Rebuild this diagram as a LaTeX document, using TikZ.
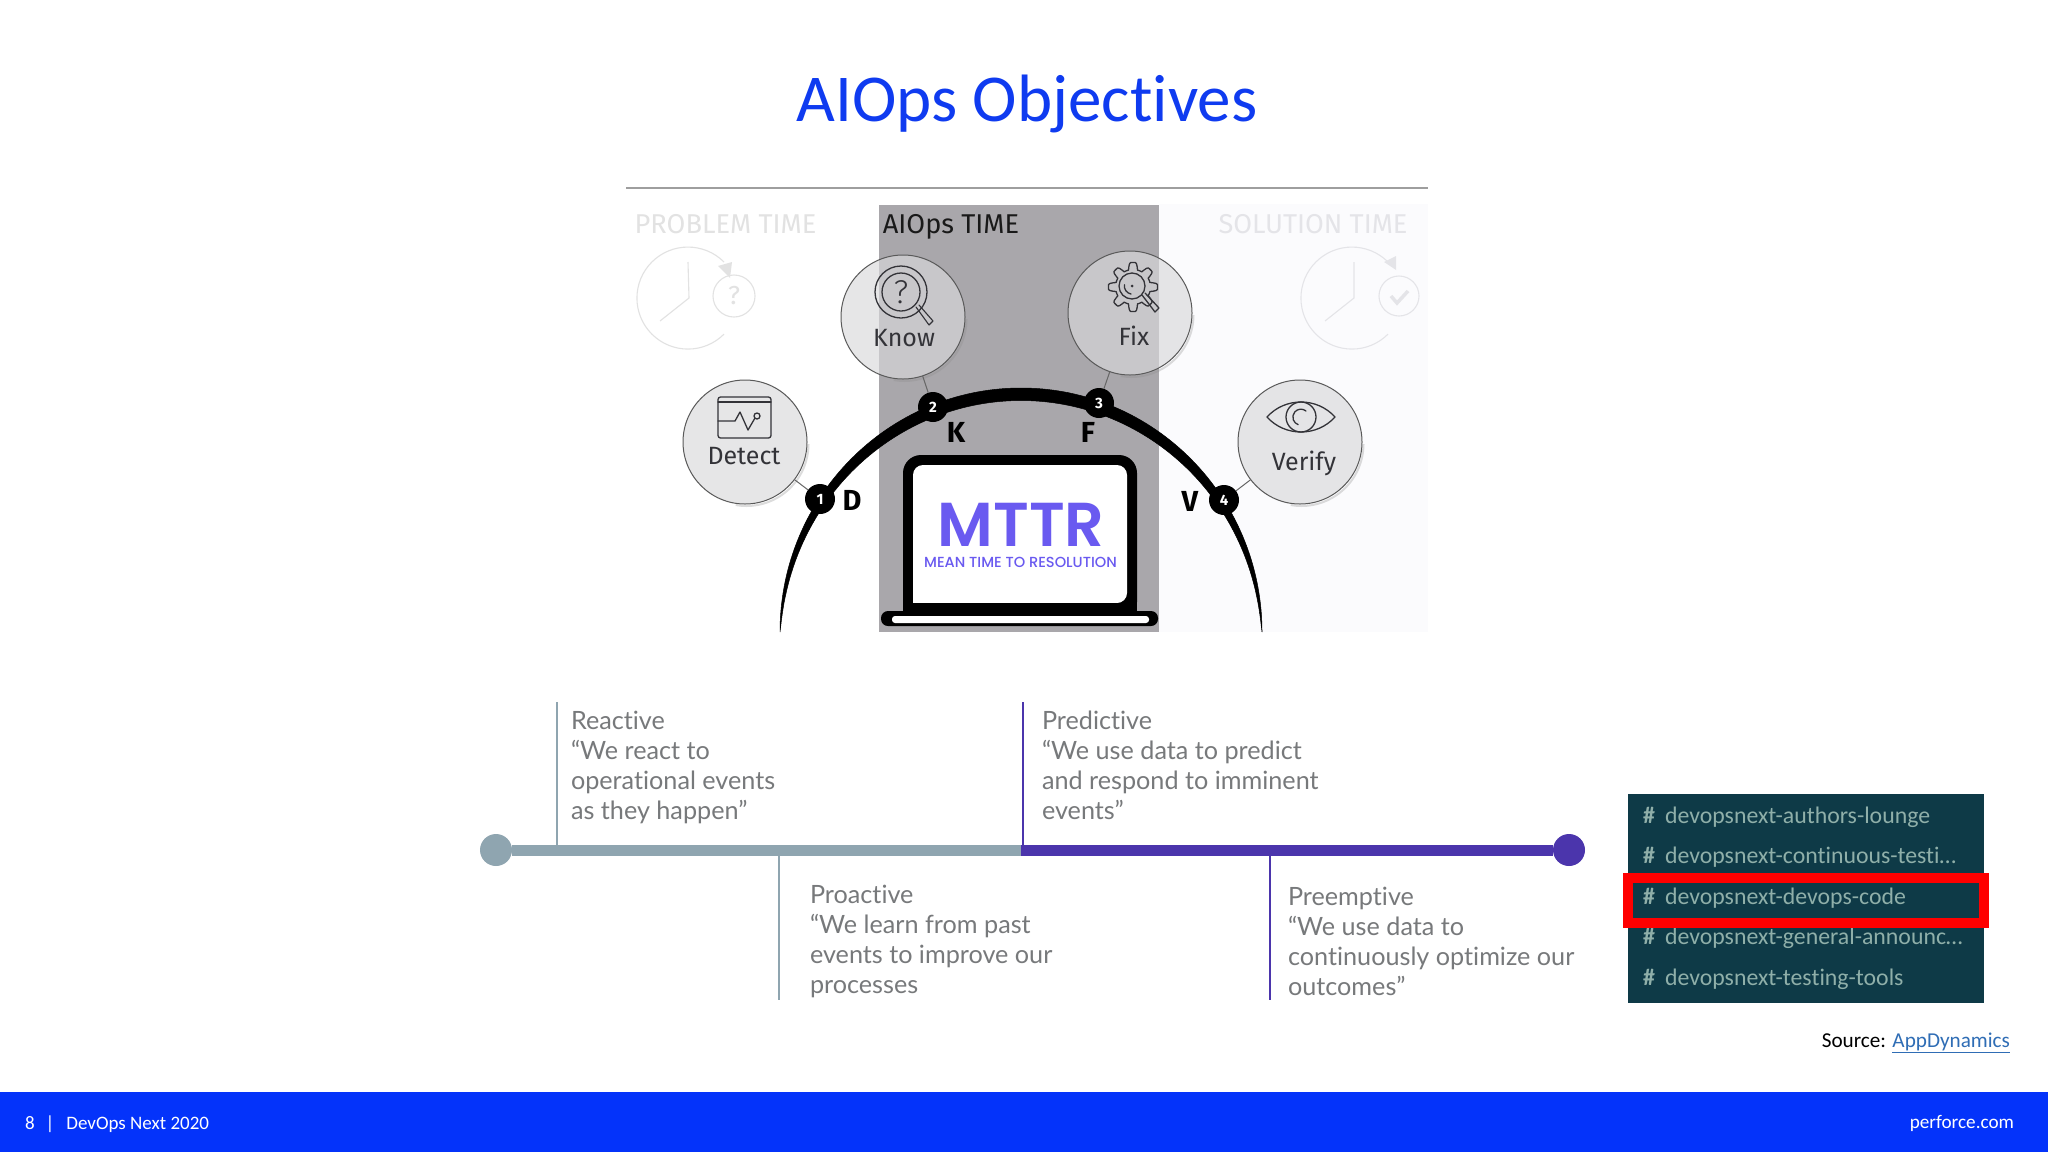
\documentclass[tikz,border=0pt]{standalone}
\usepackage{fontspec}
\setmainfont{Carlito}[Ligatures=NoCommon]
\newfontfamily\lblfont{Fira Sans}
\newfontfamily\tlfont{Lato}[Ligatures=NoCommon]
\newfontfamily\mtfont{Poppins Medium}
\newfontfamily\mtbfont{Poppins SemiBold}
\usetikzlibrary{calc,arrows.meta}
\definecolor{titleblue}{HTML}{0F3BF0}
\definecolor{footblue}{HTML}{0433FA}
\definecolor{panelgrey}{HTML}{A9A7AB}
\definecolor{panelpale}{HTML}{FBFBFD}
\definecolor{bubble}{HTML}{D9D9DB}
\definecolor{icondark}{HTML}{333338}
\definecolor{fadeL}{HTML}{E2E2E2}
\definecolor{fadeR}{HTML}{E4E4E8}
\definecolor{mttr}{HTML}{6A5AF0}
\definecolor{tlgrey}{HTML}{8FA5B0}
\definecolor{tlpurple}{HTML}{4B35AC}
\definecolor{tltext}{HTML}{77797B}
\definecolor{slackbg}{HTML}{0E3A47}
\definecolor{slacktx}{HTML}{8FAFA9}
\definecolor{linkblue}{HTML}{2F6DB5}
\newcommand{\fsz}[1]{\fontsize{#1}{#1}\selectfont}
\tikzset{
  x=1pt,y=-1pt,
  txt/.style={inner sep=0,outer sep=0},
  bubblenode/.style={circle,minimum size=124,inner sep=0,outer sep=0,draw=black!65,line width=1pt,fill=bubble,fill opacity=.65},
  shadowarc/.style={draw=black!45,line width=2pt,opacity=.3},
  badge/.style={circle,fill=black,text=white,minimum size=30,inner sep=0,outer sep=0,font=\lblfont\bfseries\fsz{15}},
  conn/.style={draw=black!60,line width=1pt},
  bubbletext/.style={txt,text=icondark,font=\lblfont\fsz{25}},
  arclabel/.style={txt,text=black,font=\lblfont\bfseries\fsz{29}},
  icon/.style={draw=icondark,line width=1.3pt,line join=round,line cap=round},
  fadeiconL/.style={draw=fadeL,line width=1.1pt},
  fadeiconR/.style={draw=fadeR,line width=1.1pt},
  headtext/.style={txt,anchor=base,font=\lblfont\fsz{27.2}},
  tlblock/.style={txt,anchor=north west,align=left,text=tltext,font=\tlfont\fontsize{25.2}{30}\selectfont},
  tlstem/.style={line width=2pt},
  slackline/.style={txt,anchor=base west,text=slacktx,font=\fsz{23.8}},
  foottext/.style={txt,text=white,font=\fsz{19}},
}
\begin{document}
\begin{tikzpicture}
\useasboundingbox (0,0) rectangle (2048,1152);
\fill[white] (0,0) rectangle (2048,1152);
% title
\node[txt,anchor=base,text=titleblue,font=\fsz{67}] (title) at (1027,121) {AIOps Objectives};
\coordinate (ruleL) at (626,188); \coordinate (ruleR) at (1428,188);
\draw[black!38,line width=1.2pt] (ruleL) -- (ruleR);
% panels
\fill[panelpale] (1159,204) rectangle (1428,632);
\fill[panelgrey] (879,205) rectangle (1159,632);
\node[headtext,text=fadeL] (problem) at (725.5,233) {PROBLEM TIME};
\node[headtext,text=black!90] (aiops) at (951,233) {AIOps TIME};
\node[headtext,text=fadeR] (solution) at (1313,233) {SOLUTION TIME};
% faded clocks
\coordinate (clkL) at (688,296); \coordinate (clkR) at (1352,296);
\draw[fadeiconL] (734,296) circle[radius=21];
\draw[fadeiconL] (724,262) arc[start angle=-45,end angle=-315,radius=51];
\fill[fadeL] (730,278) -- (718,266) -- (732,262) -- cycle;
\draw[fadeiconL] (688,262) -- (689,298) -- (660,321);
\node[txt,text=fadeL,font=\lblfont\fsz{26}] (qL) at (734,296) {?};
\draw[fadeiconR] (1399,296) circle[radius=20];
\draw[fadeiconR] (1388,262) arc[start angle=-45,end angle=-315,radius=51];
\fill[fadeR] (1396,270) -- (1384,262) -- (1396,256) -- cycle;
\draw[fadeiconR] (1354,262) -- (1354,298) -- (1325,321);
\draw[fadeR,line width=3.5pt] (1391,296) -- (1397,303) -- (1408,291);
% arc
\coordinate (arcC) at (1021,632);
\path[fill=black,draw=black,line width=.5pt] (780,632) arc[start angle=180,end angle=360,x radius=241,y radius=244]
  -- plot[domain=359:181,samples=120] ({1021+(241-12.5*pow(abs(sin(\x)),.8))*cos(\x)},{632+(244-12.5*pow(abs(sin(\x)),.8))*sin(\x)}) -- cycle;
% bubbles
\node[bubblenode] (know) at (903,317) {};
\node[bubblenode] (detect) at (745,442) {};
\node[bubblenode] (fix) at (1130,313) {};
\node[bubblenode] (verify) at (1300,442) {};
\foreach \n in {know,detect,fix,verify}
  \draw[shadowarc] ([shift={(63.5,2)}]\n.center) arc[start angle=0,end angle=100,radius=62];
% badges
\node[badge] (b1) at (820,499) {1};
\node[badge] (b2) at (933,407) {2};
\node[badge] (b3) at (1099,403) {3};
\node[badge] (b4) at (1224,500) {4};
\draw[conn] (detect) -- (b1);
\draw[conn] (know) -- (b2);
\draw[conn] (fix) -- (b3);
\draw[conn] (verify) -- (b4);
\node[arclabel] (lD) at (852,500) {D};
\node[arclabel] (lK) at (956,432) {K};
\node[arclabel] (lF) at (1088,432) {F};
\node[arclabel] (lV) at (1190,501) {V};
% bubble text
\node[bubbletext] (tKnow) at (904,338) {Know};
\node[bubbletext] (tDetect) at (744,456) {Detect};
\node[bubbletext] (tFix) at (1134,336) {Fix};
\node[bubbletext] (tVerify) at (1304,463) {Verify};
% know icon
\draw[icon] (901,292) circle[radius=26] (901,292) circle[radius=19];
\draw[icon,line width=1.1pt] (916,307) -- (929,325) -- (933,321) -- (919,305);
\node[txt,text=icondark,font=\fontspec{Fira Sans Light}\fsz{33}] (qK) at (901,292) {?};
% detect icon
\draw[icon,rounded corners=2.5] (718,397) rectangle (771,438);
\draw[icon] (718,402) -- (771,402);
\draw[icon] (718,421) -- (735,421) -- (740,412) -- (748,430) -- (755,418);
\draw[icon] (757,416) circle[radius=3];
% fix icon
\draw[icon] plot[domain=0:360,samples=121] ({1133+(21+3.5*max(-1,min(1,2*cos(8*\x))))*cos(\x)},{287+(21+3.5*max(-1,min(1,2*cos(8*\x))))*sin(\x)}) -- cycle;
\draw[icon] (1132,286) circle[radius=13];
\draw[icon] (1131,294) arc[start angle=100,end angle=190,radius=8];
\fill[icondark] (1132,286) circle[radius=1.5];
\draw[icon] (1142,295) -- (1155,312) -- (1159,308) -- (1145,293);
% verify icon
\draw[icon] (1267,417) .. controls (1285,397) and (1317,397) .. (1335,417) .. controls (1317,437) and (1285,437) .. (1267,417) -- cycle;
\draw[icon] (1301,417) circle[radius=15];
\draw[icon] (1306,411) arc[start angle=-50,end angle=-250,radius=8];
% laptop
\fill[black,rounded corners=18] (903,455) -- (1137,455) -- (1137,620) -- (903,620) -- cycle;
\fill[white,rounded corners=10] (913,603) -- (913,465) -- (1127,465) -- (1127,603) [sharp corners] -- cycle;
\fill[black,rounded corners=7] (881,611) rectangle (1158,626);
\fill[white,rounded corners=3] (892,616) rectangle (1149,623);
\fill[black] (903,603) rectangle (1137,613);
\node[txt,anchor=base,text=mttr,font=\mtbfont\fsz{62}] (mttrT) at (1021,546) {MTTR};
\node[txt,anchor=base,text=mttr,font=\mtfont\fsz{14.6}] (mttrS) at (1020.5,567) {MEAN TIME TO RESOLUTION};
% timeline
\coordinate (split) at (1021,850);
\node[circle,fill=tlgrey,minimum size=32,inner sep=0,outer sep=0] (dotL) at (496,850) {};
\node[circle,fill=tlpurple,minimum size=32,inner sep=0,outer sep=0] (dotR) at (1569,850) {};
\draw[tlgrey,line width=11pt] (dotL) -- (split);
\draw[tlpurple,line width=11pt] (split) -- (dotR);
\coordinate (s1a) at (556.5,702); \coordinate (s1b) at (556.5,845);
\coordinate (s2a) at (1022.5,702); \coordinate (s2b) at (1022.5,845);
\coordinate (s3a) at (778.5,856); \coordinate (s3b) at (778.5,1000);
\coordinate (s4a) at (1270,856); \coordinate (s4b) at (1270,1000);
\draw[tlstem,tlgrey] (s1a) -- (s1b);
\draw[tlstem,tlpurple] (s2a) -- (s2b);
\draw[tlstem,tlgrey] (s3a) -- (s3b);
\draw[tlstem,tlpurple] (s4a) -- (s4b);
\node[tlblock] (reactive) at (571,711) {Reactive\\“We react to\\operational events\\as they happen”};
\node[tlblock] (predictive) at (1042,711) {Predictive\\“We use data to predict\\and respond to imminent\\events”};
\node[tlblock] (proactive) at (810,885) {Proactive\\“We learn from past\\events to improve our\\processes};
\node[tlblock] (preemptive) at (1288,887) {Preemptive\\“We use data to\\continuously optimize our\\outcomes”};
% slack panel
\fill[slackbg] (1628,794) rectangle (1984,1003);
\foreach \nm/\yy/\tx in {sa/823/devopsnext-authors-lounge,sb/863/devopsnext-continuous-testi…,sc/904/devopsnext-devops-code,sd/944/devopsnext-general-announc…,se/985/devopsnext-testing-tools}{
  \node[slackline] (h\nm) at (1643,\yy) {\bfseries\#};
  \node[slackline] (\nm) at (1665,\yy) {\tx};
}
\draw[red,line width=10pt] (1628,878) rectangle (1984,923);
% source
\node[txt,anchor=base east,font=\fsz{21.2}] (source) at (2010,1047) {Source: \textcolor{linkblue}{\underline{AppDynamics}}};
% footer
\fill[footblue] (0,1092) rectangle (2048,1152);
\node[foottext,anchor=base west] (fl) at (25,1129) {8\hspace{11pt}|\hspace{12pt}DevOps Next 2020};
\node[foottext,anchor=base east,font=\fsz{19.2}] (fr) at (2014,1128) {perforce.com};
\end{tikzpicture}
\end{document}
